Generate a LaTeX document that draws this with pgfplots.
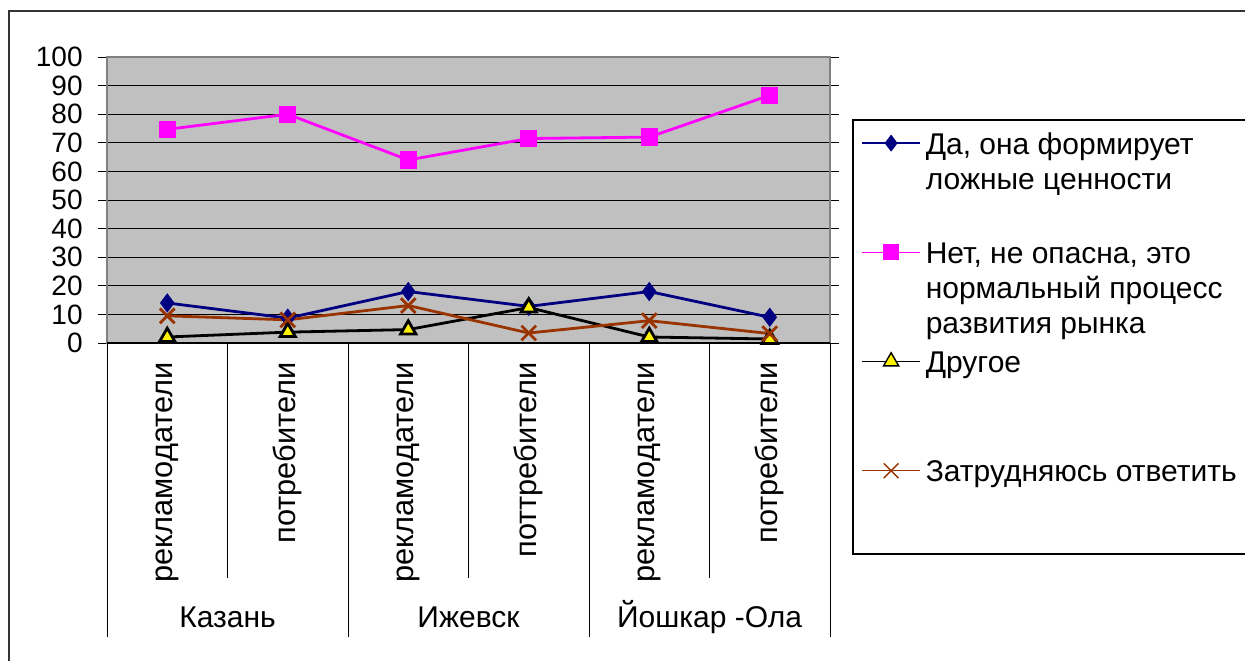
\documentclass[border=0pt]{standalone}
\usepackage{pgfplots}
\pgfplotsset{compat=1.18}
\usepackage{pgfplotstable}
\usepackage{fontspec}
\setmainfont{Liberation Sans}

\definecolor{navyline}{RGB}{0,0,128}
\definecolor{magline}{RGB}{255,0,255}
\definecolor{brownline}{RGB}{153,51,0}
\definecolor{plotgray}{RGB}{192,192,192}
\definecolor{framegray}{RGB}{128,128,128}

% shares of answers (%) by city and respondent group
\pgfplotstableread{
idx  da    net   other  hard
0    14.0  74.7  2.1    9.5
1    8.7   80.0  3.8    8.1
2    18.0  64.0  4.7    13.1
3    12.8  71.5  12.4   3.5
4    18.0  72.0  2.1    7.8
5    9.0   86.6  1.4    3.3
}\surveydata

% legend entry text, top-aligned on its first line
\newcommand{\legstrut}{\rule{0pt}{10.5pt}}
\newcommand{\legtext}[1]{\legstrut\parbox[t]{185pt}{\raggedright #1}}

\begin{document}
\fontsize{15}{17.5}\selectfont
\begin{tikzpicture}[font=\fontsize{15}{17.5}\selectfont]
\path[use as bounding box] (0pt,0pt) rectangle (622.5pt,330pt);
% outer chart frame
\draw[line width=0.7pt, black!80] (4.5pt,-10pt) -- (4.5pt,324.5pt) -- (640pt,324.5pt);
% legend frame
\draw[line width=0.6pt, black] (426.5pt,53pt) rectangle (640pt,270pt);

\begin{axis}[
  at={(53.5pt,158.5pt)}, anchor=south west,
  scale only axis, width=361.5pt, height=143pt,
  xmin=-0.5, xmax=5.5, ymin=0, ymax=100,
  clip=false,
  axis background/.style={fill=plotgray},
  axis line style={framegray, line width=0.6pt},
  ytick={0,10,...,100},
  ymajorgrids, major grid style={black, line width=0.5pt},
  tick align=outside, major tick length=4.5pt,
  ytick style={black, line width=0.5pt},
  yticklabel style={anchor=east, inner sep=0pt, font=\fontsize{14}{16}\selectfont},
  yticklabel shift=7.5pt,
  /pgf/number format/assume math mode=true,
  xtick={0,...,5},
  xticklabels={рекламодатели,потребители,рекламодатели,поттребители,рекламодатели,потребители},
  xtick style={draw=none},
  xticklabel style={rotate=90, anchor=east, inner sep=0pt, font=\fontsize{15.4}{17.5}\selectfont},
  xticklabel shift=5pt,
  legend style={draw=none, fill=none, at={(1.0429,0.7378)}, anchor=north west,
    inner sep=0pt, row sep=41.85pt, column sep=2.5pt,
    nodes={inner sep=0pt}, cells={anchor=base west}},
  legend image code/.code={
    \draw[mark repeat=2, mark phase=2, #1] plot coordinates {(0pt,0pt) (14.5pt,0pt) (29pt,0pt)};},
  legend image post style={line width=0.7pt, yshift=5.5pt},
]
\addplot[navyline, line width=1.4pt, mark=diamond*, mark size=3.7pt,
  mark options={fill=navyline, solid}] table[x=idx, y=da]{\surveydata};
\addlegendentry{\legtext{Да, она формирует\\ложные ценности}}

\addplot[magline, line width=1.4pt, mark=square*, mark size=3.6pt,
  mark options={fill=magline, solid}] table[x=idx, y=net]{\surveydata};
\addlegendentry{\legtext{Нет, не опасна, это\\нормальный процесс\\развития рынка}}

\addplot[black, line width=1.4pt, mark=triangle*, mark size=4.4pt,
  mark options={fill=yellow, draw=black, solid}] table[x=idx, y=other]{\surveydata};
\addlegendentry{\legtext{Другое}}

\addplot[brownline, line width=1.4pt, mark=x, mark size=5.2pt,
  mark options={solid}] table[x=idx, y=hard]{\surveydata};
\addlegendentry{\legtext{Затрудняюсь ответить}}

% category axis: bottom line and separators
\draw[black, line width=0.6pt] (axis cs:-0.5,0) -- (axis cs:5.5,0);
\draw[black, line width=0.5pt] (axis cs:-0.5,0) -- ++(0pt,-147pt);
\draw[black, line width=0.5pt] (axis cs:0.5,0) -- ++(0pt,-117.5pt);
\draw[black, line width=0.5pt] (axis cs:1.5,0) -- ++(0pt,-147pt);
\draw[black, line width=0.5pt] (axis cs:2.5,0) -- ++(0pt,-117.5pt);
\draw[black, line width=0.5pt] (axis cs:3.5,0) -- ++(0pt,-147pt);
\draw[black, line width=0.5pt] (axis cs:4.5,0) -- ++(0pt,-117.5pt);
\draw[black, line width=0.5pt] (axis cs:5.5,0) -- ++(0pt,-147pt);

% city names
\node[anchor=base, yshift=-142pt] at (axis cs:0.5,0) {Казань};
\node[anchor=base, yshift=-142pt] at (axis cs:2.5,0) {Ижевск};
\node[anchor=base, yshift=-142pt] at (axis cs:4.5,0) {Йошкар -Ола};
\end{axis}
\end{tikzpicture}
\end{document}
